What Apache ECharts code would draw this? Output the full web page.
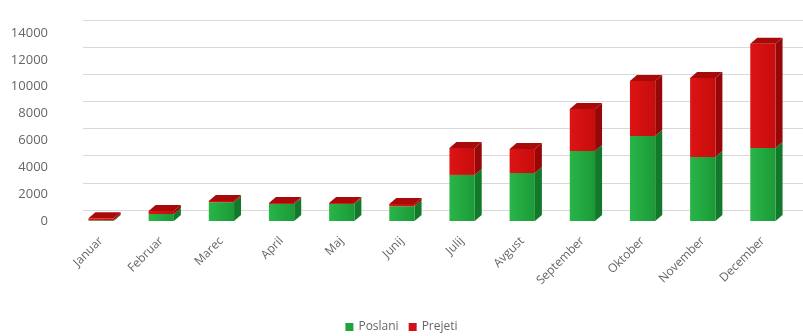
<!DOCTYPE html>
<html><head><meta charset="utf-8">
<script src="https://cdn.jsdelivr.net/npm/echarts@6/dist/echarts.min.js"></script>
<style>html,body{margin:0;padding:0;background:#fff}#c{width:803px;height:336px}</style>
</head><body><div id="c"></div>
<script>
var months = ['Januar','Februar','Marec','April','Maj','Junij','Julij','Avgust','September','Oktober','November','December'];
var poslani = [50, 520, 1400, 1270, 1270, 1100, 3430, 3570, 5210, 6330, 4770, 5440];
var prejeti = [150, 230, 90, 70, 70, 170, 2010, 1790, 3130, 4090, 5880, 7760];
var yTicks = [0, 2000, 4000, 6000, 8000, 10000, 12000, 14000];

var DX = 7, DY = 6, BW = 0.42;
function makeRender(front, side, top, isTop) {
  return function (params, api) {
    var idx = api.value(0), b = api.value(1), t = api.value(2);
    var p0 = api.coord([idx, b]), p1 = api.coord([idx, t]);
    var w = api.size([1, 0])[0] * BW;
    var x0 = p0[0] - w / 2, yb = p0[1], yt = p1[1];
    var ch = [
      {type: 'polygon', shape: {points: [[x0 + w, yt], [x0 + w + DX, yt - DY], [x0 + w + DX, yb - DY], [x0 + w, yb]]},
       style: {fill: side}},
      {type: 'rect', shape: {x: x0, y: yt, width: w, height: yb - yt},
       style: {fill: new echarts.graphic.LinearGradient(0, 0, 1, 0, [{offset: 0, color: front[0]}, {offset: 1, color: front[1]}])}}
    ];
    if (isTop) {
      ch.push({type: 'polygon', shape: {points: [[x0, yt], [x0 + DX, yt - DY], [x0 + w + DX, yt - DY], [x0 + w, yt]]},
        style: {fill: top}});
    }
    return {type: 'group', children: ch};
  };
}
var dPos = months.map(function (m, i) { return [i, 0, poslani[i]]; });
var dPre = months.map(function (m, i) { return [i, poslani[i], poslani[i] + prejeti[i]]; });

var chart = echarts.init(document.getElementById('c'), null, {renderer: 'canvas'});
var lblFont = {fontFamily: 'Open Sans', fontSize: 12, color: '#666666'};
chart.setOption({
  animation: false,
  backgroundColor: '#fff',
  grid: [
    {left: 71, right: 10, top: 33, bottom: 115},
    {left: 83, right: 0, top: 20, bottom: 126}
  ],
  legend: {
    bottom: -2, left: 'center', itemWidth: 8, itemHeight: 8, itemGap: 10, icon: 'rect',
    textStyle: {fontFamily: 'Open Sans', fontSize: 12, color: '#666666'},
    data: ['Poslani', 'Prejeti']
  },
  xAxis: [
    {type: 'category', gridIndex: 0, data: months, axisLine: {show: false}, axisTick: {show: false},
     axisLabel: Object.assign({rotate: 45, interval: 0, margin: 18}, lblFont)},
    {type: 'category', gridIndex: 1, data: months, show: false}
  ],
  yAxis: [
    {type: 'value', gridIndex: 0, min: 0, max: 14000, interval: 2000, splitLine: {show: false},
     axisLine: {show: false}, axisTick: {show: false},
     axisLabel: Object.assign({margin: 23, padding: [6, 0, 0, 0], fontSize: 13,
       formatter: function (v) { return String(v); }}, {fontFamily: 'Open Sans', color: '#666666'})},
    {type: 'value', gridIndex: 1, min: 0, max: 14000, interval: 2000,
     axisLine: {show: false}, axisTick: {show: false}, axisLabel: {show: false},
     splitLine: {lineStyle: {color: '#d9d9d9', width: 1}}}
  ],
  series: [
    {name: 'Poslani', type: 'custom', xAxisIndex: 0, yAxisIndex: 0, data: dPos,
     encode: {x: 0, y: [1, 2]}, itemStyle: {color: '#1fa33d'},
     renderItem: makeRender(['#29b548', '#1b9a37'], '#12782a', '#168a30', false)},
    {name: 'Prejeti', type: 'custom', xAxisIndex: 0, yAxisIndex: 0, data: dPre,
     encode: {x: 0, y: [1, 2]}, itemStyle: {color: '#d0101a'},
     renderItem: makeRender(['#dc1414', '#c80c0c'], '#980707', '#a80a0a', true)}
  ]
});
</script></body></html>
